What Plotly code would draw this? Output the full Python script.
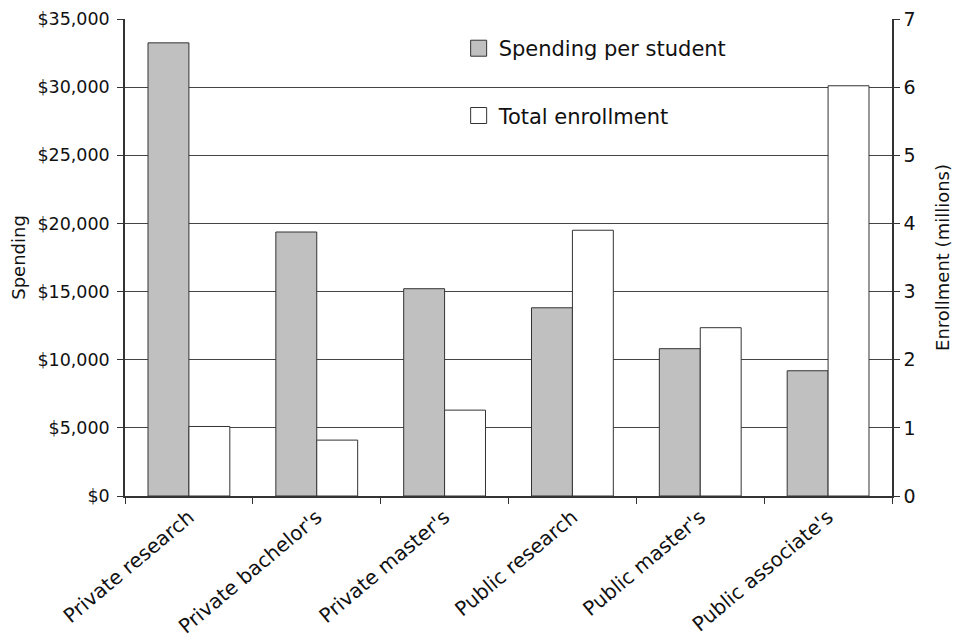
import plotly.graph_objects as go

categories = ["Private research", "Private bachelor's", "Private master's",
              "Public research", "Public master's", "Public associate's"]
spending = [33250, 19370, 15210, 13810, 10810, 9190]
enrollment = [1.02, 0.82, 1.26, 3.90, 2.47, 6.02]
spend_ticks = [0, 5000, 10000, 15000, 20000, 25000, 30000, 35000]
enroll_ticks = [0, 1, 2, 3, 4, 5, 6, 7]
spend_labels = ["$" + f"{v:,}" for v in spend_ticks]

FONT = "DejaVu Sans"
EDGE = "#333333"

fig = go.Figure()
fig.add_trace(go.Bar(
    x=categories, y=spending, name="Spending per student",
    marker=dict(color="#c0c0c0", line=dict(color=EDGE, width=1)),
    offsetgroup="a", yaxis="y", showlegend=False))
fig.add_trace(go.Bar(
    x=categories, y=enrollment, name="Total enrollment",
    marker=dict(color="#ffffff", line=dict(color=EDGE, width=1)),
    offsetgroup="b", yaxis="y2", showlegend=False))
# legend-only entries
fig.add_trace(go.Scatter(
    x=[None], y=[None], mode="markers", name="Spending per student",
    marker=dict(symbol="square", size=16, color="#c0c0c0", line=dict(color=EDGE, width=1)),
    legendgroup="g1"))
fig.add_trace(go.Scatter(
    x=[None], y=[None], mode="markers", name="Total enrollment",
    marker=dict(symbol="square", size=16, color="#ffffff", line=dict(color=EDGE, width=1)),
    legendgroup="g2"))

fig.update_layout(
    width=965, height=637,
    margin=dict(l=117, r=81, t=11, b=149),
    paper_bgcolor="white", plot_bgcolor="white",
    font=dict(family=FONT, size=18, color="#111111"),
    barmode="group", bargap=0.36, bargroupgap=0,
    showlegend=True,
    legend=dict(x=0.435, y=0.981, xanchor="left", yanchor="top",
                bgcolor="rgba(0,0,0,0)", traceorder="grouped",
                tracegroupgap=37, font=dict(family=FONT, size=21),
                itemwidth=30),
    xaxis=dict(showline=True, linecolor=EDGE, linewidth=1.5, automargin=False,
               ticks="outside", tickson="boundaries", ticklen=6, tickcolor=EDGE,
               tickangle=-40, tickfont=dict(size=20), showgrid=False,
               ticklabeloverflow="allow"),
    yaxis=dict(range=[0, 35000], tickvals=spend_ticks, ticktext=spend_labels,
               showline=True, linecolor=EDGE, linewidth=1.5, automargin=False,
               ticks="outside", ticklen=6, tickcolor=EDGE, tickfont=dict(size=17.5),
               ticklabelstandoff=4, ticklabeloverflow="allow",
               showgrid=True, gridcolor="#444444", gridwidth=1, zeroline=False,
               title=dict(text="Spending", font=dict(size=18), standoff=20)),
    yaxis2=dict(range=[0, 7], tickvals=enroll_ticks, overlaying="y", side="right",
                showline=True, linecolor=EDGE, linewidth=1.5, automargin=False,
                ticks="outside", ticklen=6, tickcolor=EDGE, tickfont=dict(size=19),
                ticklabeloverflow="allow",
                showgrid=False, zeroline=False,
                title=dict(text="Enrollment (millions)", font=dict(size=18), standoff=22)),
)

fig.write_html("out.html")
